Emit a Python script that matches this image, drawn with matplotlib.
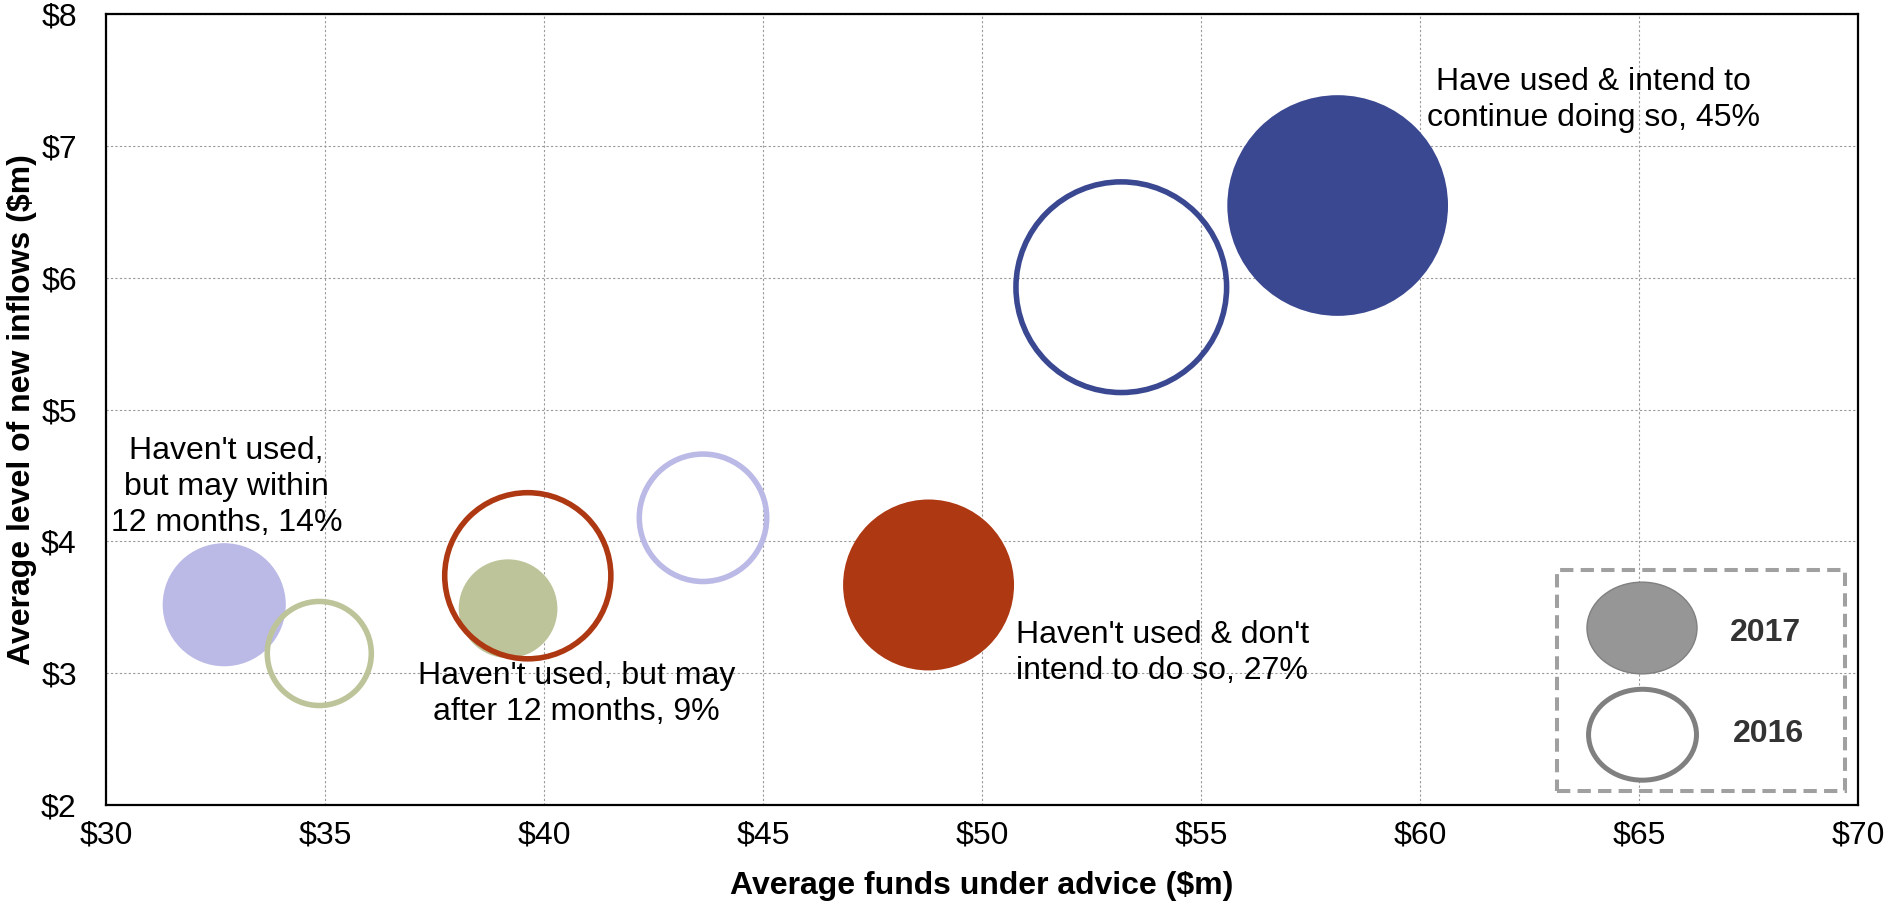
import numpy as np
import matplotlib.pyplot as plt
from matplotlib.patches import Ellipse, Rectangle

plt.rcParams['font.family'] = ['Liberation Sans', 'DejaVu Sans']

# segments: intend to continue, don't intend, may within 12m, may after 12m
colors = ['#3A4891', '#AD3812', '#BBB9E6', '#BEC499']

funds_2017 = [58.12, 48.78, 32.70, 39.18]
inflows_2017 = [6.55, 3.67, 3.52, 3.49]
share_2017 = [45, 27, 14, 9]

funds_2016 = [53.18, 39.63, 43.63, 34.87]
inflows_2016 = [5.93, 3.74, 4.18, 3.15]
share_2016 = [41, 25.5, 15, 10]

labels = ["Have used & intend to\ncontinue doing so, 45%",
          "Haven't used & don't\nintend to do so, 27%",
          "Haven't used,\nbut may within\n12 months, 14%",
          "Haven't used, but may\nafter 12 months, 9%"]
label_x = [63.95, 50.78, 32.75, 40.74]
label_y = [7.35, 3.155, 4.415, 2.84]
label_ha = ['center', 'left', 'center', 'center']

x_ticks = [30, 35, 40, 45, 50, 55, 60, 65, 70]
y_ticks = [2, 3, 4, 5, 6, 7, 8]

FS = 23

# bubble area proportional to share
area_per_share = (0.72 * 32.9) ** 2

fig = plt.figure(figsize=(18.89, 9.05), dpi=100)
ax = fig.add_axes([0.0561, 0.1105, 0.9275, 0.8735])

ax.scatter(funds_2017, inflows_2017, s=np.array(share_2017) * area_per_share,
           c=colors, linewidths=0, zorder=3)
ax.scatter(funds_2016, inflows_2016, s=np.array(share_2016) * area_per_share,
           facecolors='none', edgecolors=colors, linewidths=4.0, zorder=4)

for t, x, y, ha in zip(labels, label_x, label_y, label_ha):
    ax.text(x, y, t, ha=ha, va='center', fontsize=FS, linespacing=1.25,
            color='black', zorder=5)

ax.set_xlim(30, 70)
ax.set_ylim(2, 8)
ax.set_xticks(x_ticks)
ax.set_yticks(y_ticks)
ax.set_xticklabels([f'${v}' for v in x_ticks])
ax.set_yticklabels([f'${v}' for v in y_ticks])
ax.tick_params(axis='both', length=0, labelsize=FS)
ax.tick_params(axis='x', pad=11)
ax.tick_params(axis='y', pad=21)

ax.grid(True, color='#9a9a9a', linestyle=(0, (2, 2)), linewidth=0.8, zorder=0)
ax.set_axisbelow(True)
for sp in ax.spines.values():
    sp.set_linewidth(1.6)
    sp.set_color('black')

ax.set_xlabel('Average funds under advice ($m)', fontsize=FS, fontweight='bold')
ax.set_ylabel('Average level of new inflows ($m)', fontsize=FS, fontweight='bold')
ax.xaxis.set_label_coords(0.5, -0.083)
ax.yaxis.set_label_coords(-0.0395, 0.5)

# legend box
ax.add_patch(Rectangle((0.828, 0.0177), 0.1646, 0.2796, transform=ax.transAxes,
                       fill=False, edgecolor='#A0A0A0', linewidth=2.9,
                       linestyle=(0, (3.3, 1.8)), zorder=6))
ax.add_patch(Ellipse((0.8767, 0.2239), 0.0628, 0.116, transform=ax.transAxes,
                     facecolor='#969696', edgecolor='#808080', linewidth=1.0,
                     zorder=7))
ax.add_patch(Ellipse((0.877, 0.0889), 0.0616, 0.115, transform=ax.transAxes,
                     facecolor='white', edgecolor='#808080', linewidth=3.6,
                     zorder=7))
ax.text(0.947, 0.218, '2017', transform=ax.transAxes, ha='center', va='center',
        fontsize=FS, fontweight='bold', color='#333333', zorder=8)
ax.text(0.949, 0.0898, '2016', transform=ax.transAxes, ha='center', va='center',
        fontsize=FS, fontweight='bold', color='#333333', zorder=8)

fig.savefig('out.png', dpi=100)
